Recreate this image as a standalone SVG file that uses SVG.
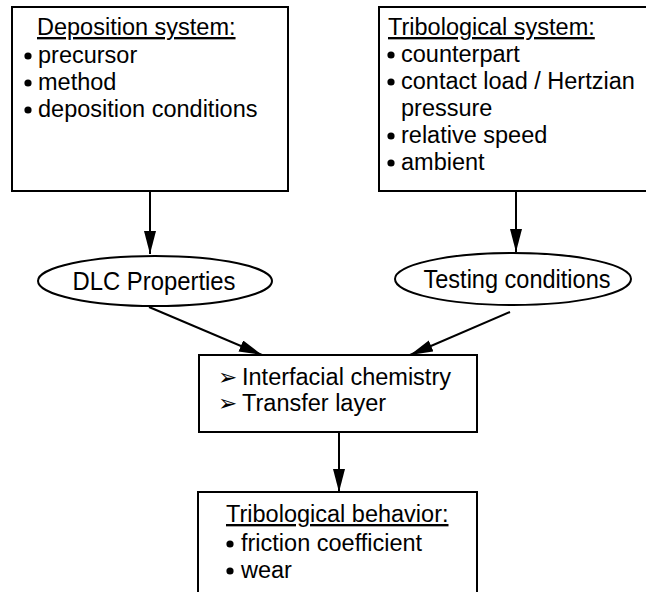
<svg xmlns="http://www.w3.org/2000/svg" width="646" height="592" viewBox="0 0 646 592">
<defs>
<style>
.box{fill:#fff;stroke:#000;stroke-width:2}
.t{font-family:"Liberation Sans",Arial,sans-serif;font-size:23.5px;fill:#000}
.e{font-family:"Liberation Sans",Arial,sans-serif;font-size:26px;fill:#000;text-anchor:middle}
.u{text-decoration:underline}
.sym{font-family:"DejaVu Sans",sans-serif;font-size:23px;fill:#000}
.b{fill:#000}
.con{stroke:#000;stroke-width:2;fill:none}
</style>
<marker id="ah" viewBox="0 0 23 12" refX="23" refY="6" markerWidth="23" markerHeight="12" markerUnits="userSpaceOnUse" orient="auto">
<path d="M0,0 L23,6 L0,12 z" fill="#000"/>
</marker>
</defs>
<rect width="646" height="592" fill="#fff"/>

<g id="deposition">
<rect class="box" x="12" y="7" width="276" height="184"/>
<text class="t u" x="37" y="35">Deposition system:</text>
<circle class="b" cx="28" cy="56" r="3.6"/>
<text class="t" x="38" y="63">precursor</text>
<circle class="b" cx="28" cy="83" r="3.6"/>
<text class="t" x="38" y="90">method</text>
<circle class="b" cx="28" cy="110" r="3.6"/>
<text class="t" x="38" y="117">deposition conditions</text>
</g>

<g id="tribological-system">
<rect class="box" x="379" y="7" width="280" height="184"/>
<text class="t u" x="388" y="35">Tribological system:</text>
<circle class="b" cx="391" cy="55" r="3.6"/>
<text class="t" x="401" y="62">counterpart</text>
<circle class="b" cx="391" cy="82" r="3.6"/>
<text class="t" x="401" y="89">contact load / Hertzian</text>
<text class="t" x="401" y="116">pressure</text>
<circle class="b" cx="391" cy="136" r="3.6"/>
<text class="t" x="401" y="143">relative speed</text>
<circle class="b" cx="391" cy="163" r="3.6"/>
<text class="t" x="401" y="170">ambient</text>
</g>

<g id="dlc">
<ellipse class="box" cx="155" cy="281" rx="117" ry="25"/>
<text class="e" x="154" y="290" textLength="163" lengthAdjust="spacingAndGlyphs">DLC Properties</text>
</g>

<g id="testing">
<ellipse class="box" cx="513" cy="279" rx="118" ry="26"/>
<text class="e" x="517" y="288" textLength="187" lengthAdjust="spacingAndGlyphs">Testing conditions</text>
</g>

<g id="interface">
<rect class="box" x="199" y="355" width="278" height="77"/>
<text class="sym" x="218" y="385">➢</text>
<text class="t" x="242" y="385">Interfacial chemistry</text>
<text class="sym" x="218" y="411">➢</text>
<text class="t" x="242" y="411">Transfer layer</text>
</g>

<g id="behavior">
<rect class="box" x="198" y="492" width="279" height="120"/>
<text class="t u" x="226" y="522">Tribological behavior:</text>
<circle class="b" cx="230" cy="544" r="3.6"/>
<text class="t" x="241" y="551">friction coefficient</text>
<circle class="b" cx="230" cy="571" r="3.6"/>
<text class="t" x="241" y="578">wear</text>
</g>

<g id="connectors">
<line class="con" x1="150" y1="191" x2="150" y2="254" marker-end="url(#ah)"/>
<line class="con" x1="516" y1="191" x2="516" y2="252" marker-end="url(#ah)"/>
<line class="con" x1="149" y1="307" x2="262" y2="355" marker-end="url(#ah)"/>
<line class="con" x1="510" y1="312" x2="410" y2="355" marker-end="url(#ah)"/>
<line class="con" x1="339" y1="432" x2="339" y2="492" marker-end="url(#ah)"/>
</g>
</svg>
